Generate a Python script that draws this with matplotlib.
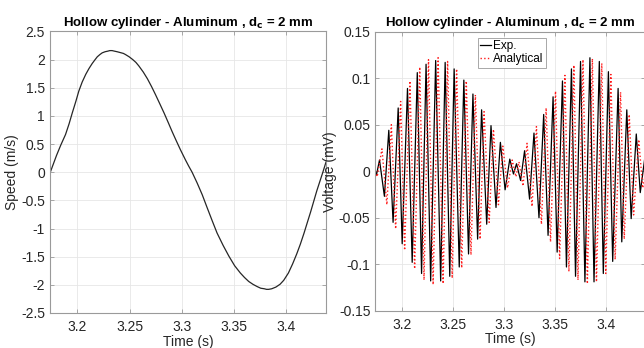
import matplotlib
matplotlib.use("Agg")
import matplotlib.pyplot as plt
from matplotlib.ticker import FormatStrFormatter

plt.rcParams['font.family'] = ['Liberation Sans', 'DejaVu Sans']

# ─── Data ───────────────────────────────────────────────────────────────────

# Left panel: speed of the hollow cylinder
speed_t = [3.1740, 3.1770, 3.1800, 3.1840, 3.1886, 3.1920, 3.1950, 3.1985,
           3.2013, 3.2045, 3.2080, 3.2110, 3.2141, 3.2165, 3.2190, 3.2215,
           3.2237, 3.2265, 3.2290, 3.2310, 3.2332, 3.2355, 3.2380, 3.2400,
           3.2420, 3.2440, 3.2460, 3.2495, 3.2530, 3.2560, 3.2587, 3.2630,
           3.2670, 3.2710, 3.2747, 3.2790, 3.2830, 3.2870, 3.2907, 3.2946,
           3.2986, 3.3034, 3.3065, 3.3098, 3.3146, 3.3195, 3.3240, 3.3290,
           3.3337, 3.3395, 3.3450, 3.3505, 3.3560, 3.3600, 3.3640, 3.3680,
           3.3720, 3.3755, 3.3790, 3.3810, 3.3831, 3.3860, 3.3900, 3.3940,
           3.3975, 3.4020, 3.4060, 3.4100, 3.4134, 3.4170, 3.4200, 3.4232,
           3.4262, 3.4292, 3.4320, 3.4350, 3.4380]
speed_v = [0.00, 0.15, 0.30, 0.48, 0.67, 0.86, 1.05, 1.26,
           1.44, 1.60, 1.74, 1.84, 1.93, 1.99, 2.05, 2.09,
           2.12, 2.14, 2.15, 2.16, 2.16, 2.15, 2.14, 2.13,
           2.12, 2.11, 2.09, 2.05, 2.00, 1.95, 1.89, 1.78,
           1.66, 1.52, 1.38, 1.21, 1.05, 0.88, 0.72, 0.56,
           0.40, 0.22, 0.11, 0.00, -0.19, -0.40, -0.62, -0.86,
           -1.08, -1.30, -1.49, -1.66, -1.79, -1.87, -1.94, -1.99,
           -2.03, -2.06, -2.07, -2.08, -2.08, -2.07, -2.04, -1.99,
           -1.92, -1.79, -1.63, -1.45, -1.28, -1.08, -0.90, -0.71,
           -0.52, -0.33, -0.17, 0.00, 0.18]

# Right panel: voltage, measured (extrema of the trace)
exp_t = [3.1737, 3.1748, 3.1778, 3.1826, 3.1869, 3.1911, 3.1961, 3.2000,
         3.2052, 3.2098, 3.2148, 3.2190, 3.2234, 3.2279, 3.2328, 3.2377,
         3.2421, 3.2466, 3.2509, 3.2559, 3.2604, 3.2650, 3.2693, 3.2739,
         3.2778, 3.2828, 3.2870, 3.2919, 3.2962, 3.3008, 3.3054, 3.3090,
         3.3120, 3.3160, 3.3199, 3.3248, 3.3291, 3.3340, 3.3386, 3.3429,
         3.3478, 3.3518, 3.3570, 3.3609, 3.3658, 3.3698, 3.3747, 3.3790,
         3.3839, 3.3879, 3.3931, 3.3970, 3.4020, 3.4062, 3.4115, 3.4151,
         3.4200, 3.4243, 3.4293, 3.4332, 3.4375, 3.4400]
exp_v = [0.000, -0.004, 0.012, -0.027, 0.044, -0.055, 0.068, -0.078,
         0.089, -0.098, 0.106, -0.110, 0.115, -0.118, 0.119, -0.118,
         0.117, -0.113, 0.110, -0.103, 0.098, -0.089, 0.083, -0.073,
         0.066, -0.057, 0.049, -0.039, 0.031, -0.020, 0.013, -0.003,
         0.008, -0.010, 0.022, -0.030, 0.041, -0.050, 0.061, -0.069,
         0.080, -0.087, 0.097, -0.103, 0.110, -0.113, 0.118, -0.119,
         0.122, -0.119, 0.118, -0.110, 0.107, -0.097, 0.089, -0.076,
         0.066, -0.051, 0.040, -0.023, 0.013, 0.000]

# Right panel: voltage, analytical model (extrema of the trace)
ana_t = [3.1737, 3.1755, 3.1802, 3.1850, 3.1894, 3.1936, 3.1985, 3.2024,
         3.2076, 3.2122, 3.2172, 3.2214, 3.2258, 3.2303, 3.2352, 3.2401,
         3.2445, 3.2490, 3.2533, 3.2583, 3.2628, 3.2674, 3.2717, 3.2763,
         3.2802, 3.2852, 3.2894, 3.2943, 3.2986, 3.3032, 3.3078, 3.3114,
         3.3144, 3.3184, 3.3223, 3.3272, 3.3315, 3.3364, 3.3410, 3.3453,
         3.3502, 3.3542, 3.3594, 3.3633, 3.3682, 3.3722, 3.3771, 3.3814,
         3.3863, 3.3903, 3.3955, 3.3994, 3.4044, 3.4086, 3.4139, 3.4175,
         3.4224, 3.4267, 3.4317, 3.4356, 3.4399]
ana_v = [0.000, -0.006, 0.024, -0.036, 0.050, -0.062, 0.075, -0.085,
         0.097, -0.105, 0.112, -0.117, 0.120, -0.122, 0.122, -0.121,
         0.118, -0.115, 0.110, -0.104, 0.097, -0.090, 0.082, -0.073,
         0.064, -0.055, 0.045, -0.036, 0.027, -0.018, 0.012, -0.006,
         0.010, -0.016, 0.030, -0.038, 0.048, -0.057, 0.068, -0.076,
         0.086, -0.094, 0.103, -0.108, 0.114, -0.117, 0.120, -0.121,
         0.121, -0.119, 0.116, -0.110, 0.104, -0.095, 0.085, -0.073,
         0.061, -0.047, 0.034, -0.018, 0.006]

time_ticks = [3.2, 3.25, 3.3, 3.35, 3.4]
speed_ticks = [-2.5, -2, -1.5, -1, -0.5, 0, 0.5, 1, 1.5, 2, 2.5]
volt_ticks = [-0.15, -0.1, -0.05, 0, 0.05, 0.1, 0.15]
volt_labels = ["-0.15", "-0.1", "-0.05", "0", "0.05", "0.1", "0.15"]

TITLE = r"Hollow cylinder - Aluminum , d$_\mathbf{c}$ = 2 mm"


def style_axes(ax):
    """MATLAB-like box, inward ticks on all sides and faint grid."""
    for sp in ax.spines.values():
        sp.set_color("#9a9a9a")
        sp.set_linewidth(0.8)
    ax.tick_params(direction="in", length=3, width=0.6, color="#9a9a9a",
                   labelcolor="#262626", labelsize=10, top=True, right=True)
    ax.tick_params(axis="x", pad=5)
    ax.grid(True, color="#e6e6e6", linewidth=0.6)
    ax.set_axisbelow(True)
    ax.set_xlim(3.1737, 3.438)
    ax.set_xticks(time_ticks)
    ax.xaxis.set_major_formatter(FormatStrFormatter("%g"))
    ax.set_xlabel("Time (s)", fontsize=10, color="#262626", labelpad=0.5)
    ax.set_title(TITLE, fontsize=9.5, fontweight="bold", pad=4)


fig = plt.figure(figsize=(6.44, 3.48), dpi=100)

ax1 = fig.add_axes([0.0776, 0.1006, 0.4286, 0.809])
ax1.plot(speed_t, speed_v, color="#262626", linewidth=0.9)
style_axes(ax1)
ax1.set_ylim(-2.5, 2.5)
ax1.set_yticks(speed_ticks)
ax1.yaxis.set_major_formatter(FormatStrFormatter("%g"))
ax1.set_ylabel("Speed (m/s)", fontsize=10, color="#262626")
ax1.yaxis.set_label_coords(-0.112, 0.5)

ax2 = fig.add_axes([0.5828, 0.1072, 0.4190, 0.8017])
ax2.plot(exp_t, exp_v, color="black", linewidth=0.9, label="Exp.")
ax2.plot(ana_t, ana_v, color="#ff1a1a", linewidth=1.0, linestyle=":",
         label="Analytical")
style_axes(ax2)
ax2.set_ylim(-0.15, 0.15)
ax2.set_yticks(volt_ticks)
ax2.set_yticklabels(volt_labels)
ax2.set_ylabel("Voltage (mV)", fontsize=10, color="#262626")
ax2.yaxis.set_label_coords(-0.141, 0.5)

leg = ax2.legend(loc="upper left", bbox_to_anchor=(0.379, 0.978),
                 fontsize=8.5, handlelength=0.9, handletextpad=0.2,
                 borderpad=0.2, labelspacing=0.1, borderaxespad=0,
                 fancybox=False, framealpha=1)
leg.get_frame().set_edgecolor("#9a9a9a")
leg.get_frame().set_linewidth(0.6)

fig.savefig("out.png", dpi=100)
